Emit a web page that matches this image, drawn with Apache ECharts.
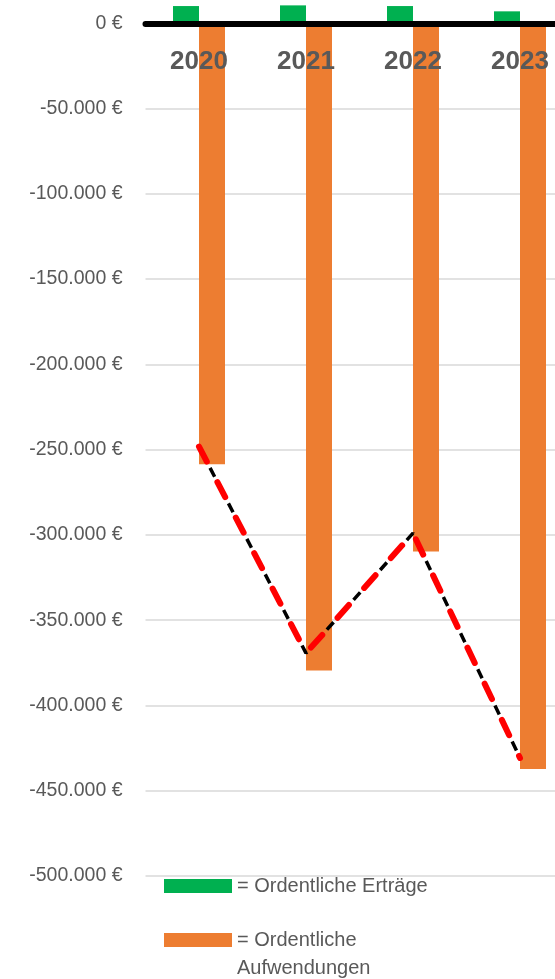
<!DOCTYPE html>
<html>
<head>
<meta charset="utf-8">
<script src="https://cdn.jsdelivr.net/npm/echarts@6/dist/echarts.min.js"></script>
<style>
html,body{margin:0;padding:0;background:#fff;}
#chart{width:555px;height:979px;}
</style>
</head>
<body>
<div id="chart"></div>
<script>
const categories = ['2020', '2021', '2022', '2023'];
const ertraege = [10100, 10500, 10100, 7000];
const aufwendungen = [-258500, -379500, -309700, -437300];
const trendLine = [-248200, -369300, -299000, -430800];
const yMin = -500000, yMax = 50000, yStep = 50000;

function fmtEuro(v) {
  const neg = v < 0;
  let s = String(Math.abs(Math.round(v)));
  s = s.replace(/\B(?=(\d{3})+(?!\d))/g, '.');
  return (neg ? '-' : '') + s + ' €';
}

const FONT = 'Liberation Sans, Arial, sans-serif';
const gridTop = -62, gridBottom = 103, H = 979;
const gridHeight = H - gridTop - gridBottom;
const zeroOffset = (0 - yMin) / (yMax - yMin) * gridHeight;

const chart = echarts.init(document.getElementById('chart'), null, {renderer: 'canvas'});
chart.setOption({
  animation: false,
  backgroundColor: '#ffffff',
  grid: {left: 145.5, width: 428, top: gridTop, bottom: gridBottom, containLabel: false, outerBoundsMode: 'none'},
  legend: [
    {
      data: ['Ordentliche Erträge'],
      left: 164, top: 872, orient: 'vertical', padding: 0,
      itemWidth: 68, itemHeight: 14, itemGap: 6,
      icon: 'rect',
      formatter: () => '= Ordentliche Erträge',
      textStyle: {color: '#595959', fontSize: 20, fontFamily: FONT, lineHeight: 28}
    },
    {
      data: ['Ordentliche Aufwendungen'],
      left: 164, top: 898, orient: 'vertical', padding: 0,
      itemWidth: 68, itemHeight: 14, itemGap: 6,
      icon: 'rect',
      formatter: () => ' \n= Ordentliche\nAufwendungen',
      textStyle: {color: '#595959', fontSize: 20, fontFamily: FONT, lineHeight: 28}
    }
  ],
  xAxis: {
    type: 'category',
    data: categories,
    position: 'bottom',
    offset: -zeroOffset,
    z: 5,
    axisLine: {onZero: false, lineStyle: {color: '#000000', width: 6}},
    axisTick: {show: false},
    axisLabel: {color: '#595959', fontSize: 26, fontWeight: 'bold', fontFamily: FONT, margin: 26},
    splitLine: {show: false}
  },
  yAxis: {
    type: 'value',
    min: yMin, max: yMax, interval: yStep,
    axisLine: {show: false},
    axisTick: {show: false},
    axisLabel: {color: '#595959', fontSize: 19.5, fontFamily: FONT, margin: 23, formatter: fmtEuro},
    splitLine: {show: true, lineStyle: {color: '#d9d9d9', width: 1.5}}
  },
  series: [
    {
      name: 'Ordentliche Erträge', type: 'bar', data: ertraege,
      barWidth: 26, barGap: '0%',
      itemStyle: {color: '#00B050'}
    },
    {
      name: 'Ordentliche Aufwendungen', type: 'bar', data: aufwendungen,
      barWidth: 26, barGap: '0%',
      itemStyle: {color: '#ED7D31'}
    },
    {
      name: 'TrendSchwarz', type: 'line', data: trendLine,
      symbol: 'none', z: 6,
      lineStyle: {color: '#000000', width: 3.5, type: [10, 10], dashOffset: 16}
    },
    {
      name: 'TrendRot', type: 'line', data: trendLine,
      symbol: 'none', z: 7,
      lineStyle: {color: '#FF0000', width: 6, type: [17, 23], cap: 'round'}
    }
  ]
});
</script>
</body>
</html>
